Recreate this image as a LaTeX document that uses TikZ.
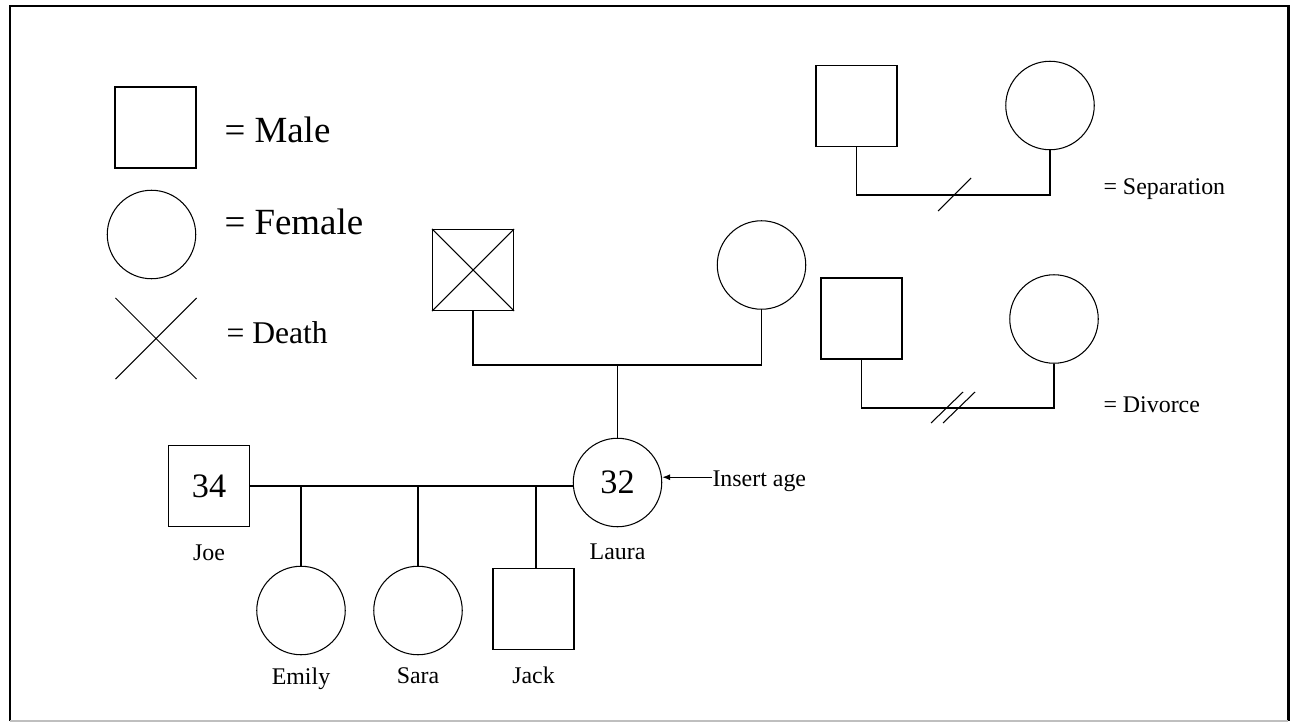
\documentclass[tikz,border=0pt]{standalone}
\usepackage{fontspec}
\setmainfont{Liberation Serif}
\usetikzlibrary{shapes.misc,arrows.meta}

\begin{document}
\begin{tikzpicture}[x=0.02cm, y=-0.02cm, line width=0.6pt,
    male/.style={draw, rectangle, inner sep=0cm, minimum size=1.62cm},
    female/.style={draw, circle, inner sep=0cm, minimum size=1.77cm},
    dead/.style={draw, cross out, inner sep=0cm, minimum size=1.6cm},
    every label/.style={inner sep=0cm, font=\fontsize{13.6}{16}\selectfont}]
\useasboundingbox (0,0) rectangle (1290,723);
% frame
\draw[line width=1.7pt] (10,721) -- (10,6) -- (1288,6) -- (1288,721);
\draw[black!25, line width=0.8pt] (10,721) -- (1288,721);
% legend
\begin{scope}[every node/.style={anchor=base west, inner sep=0cm}]
    \node[font=\fontsize{21}{24}\selectfont] (tmale) at (224,142) {= Male};
    \node[font=\fontsize{21}{24}\selectfont] (tfemale) at (224,234) {= Female};
    \node[font=\fontsize{18}{21}\selectfont] (tdeath) at (226,343) {= Death};
    \node[font=\fontsize{13.6}{16}\selectfont] (tsep) at (1103,194) {= Separation};
    \node[font=\fontsize{13.6}{16}\selectfont] (tdiv) at (1103,412) {= Divorce};
    \node[font=\fontsize{13.6}{16}\selectfont] (tage) at (712,486) {Insert age};
\end{scope}
\node[male] (lmale) at (155.5,127.5) {};
\node[female] (lfemale) at (151.5,234.5) {};
\node[dead] (ldeath) at (156,338.5) {};
% separation and divorce
\node[male] (sepm) at (856.5,106) {};
\node[female] (sepf) at (1050,105.5) {};
\node[male] (divm) at (861.5,318.5) {};
\node[female] (divf) at (1054,319) {};
\coordinate (sepmid) at (954,195);
\coordinate (divmid) at (953,408);
\draw (sepm.south) |- (sepmid) -| (sepf.south);
\draw (sepmid) ++(-16,16) -- ++(33,-33);
\draw (divm.south) |- (divmid) -| (divf.south);
\draw (divmid) ++(-22,15) -- ++(32,-31);
\draw (divmid) ++(-10,15) -- ++(32,-31);
% family
\node[male] (gpa) at (473,270) {};
\node[female] (gma) at (761.5,265) {};
\draw (gpa.north west) -- (gpa.south east) (gpa.north east) -- (gpa.south west);
\begin{scope}[every node/.style={font=\fontsize{19.5}{22}\selectfont}]
    \node[male, label={[label distance=0.34cm]270:Joe}] (joe) at (209,486) {34};
    \node[female, label={[label distance=0.33cm]270:Laura}] (laura) at (617.5,482.5) {32};
\end{scope}
\node[female, label={[label distance=0.24cm]270:Emily}] (emily) at (301,610.5) {};
\node[female, label={[label distance=0.24cm]270:Sara}] (sara) at (418,610.5) {};
\node[male, label={[label distance=0.32cm]270:Jack}] (jack) at (533.5,609) {};
\coordinate (gp) at (617.5,365);
\coordinate (c1) at (301,486);
\coordinate (c2) at (418,486);
\coordinate (c3) at (536,486);
\draw (gpa.south) |- (gp) -| (gma.south);
\draw (gp) -- (laura.north);
\draw (joe.east) -- (joe.east -| laura.west);
\draw (c1) -- (emily.north);
\draw (c2) -- (sara.north);
\draw (c3) -- (c3 |- jack.north);
\draw[-{Latex[length=4.5pt,width=3.5pt]}] ([yshift=5pt]tage.base west) -- ([yshift=5pt]tage.base west -| laura.east);
\end{tikzpicture}
\end{document}
